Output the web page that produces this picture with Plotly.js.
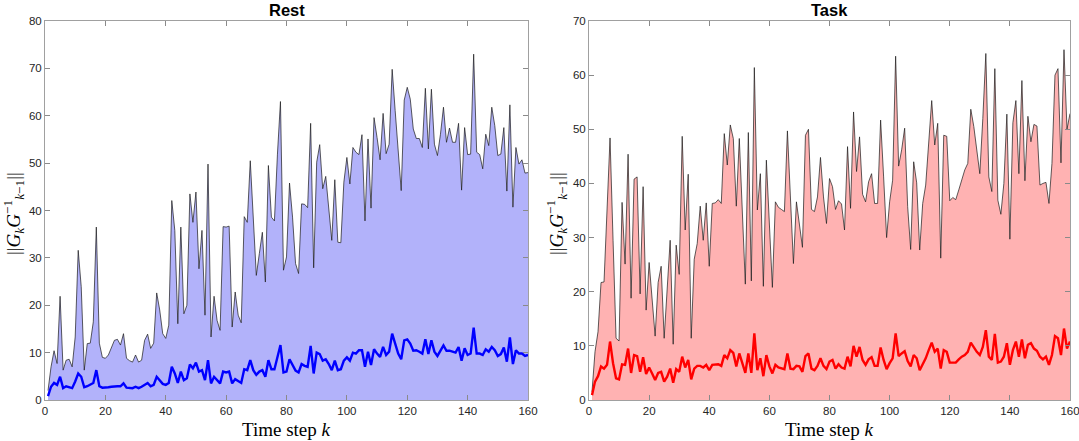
<!DOCTYPE html>
<html>
<head>
<meta charset="utf-8">
<script src="https://cdn.plot.ly/plotly-3.0.1.min.js"></script>
<style>html,body{margin:0;padding:0;background:#fff;}#chart{width:1079px;height:441px;}</style>
</head>
<body>
<div id="chart"></div>
<script>
const steps = Array.from({length: 160}, (_, i) => i + 1);

const restMax = [
  2, 7, 10.4, 7.7, 21.9, 6.3, 8.4, 8.6, 7, 13.3,
  31.6, 23.9, 6.3, 11.9, 12, 16.5, 36.5, 12, 9, 8.8,
  9.5, 11.2, 12.6, 12.8, 11.6, 14, 8.8, 8.3, 8, 9.5,
  8, 8.4, 12.6, 13.9, 10.9, 12, 22.6, 19, 14, 13,
  15.8, 42.1, 35.8, 16.1, 36.5, 18.2, 20, 43.5, 37.5, 43.9,
  27.7, 35.8, 17.9, 49.8, 13.3, 21.9, 16.8, 14.7, 36.6, 36.5,
  36.7, 15.4, 22.8, 17.9, 16.3, 38.7, 37.5, 50.5, 38.6, 26.3,
  30.9, 35.4, 24.9, 49.5, 38.6, 37.8, 51.9, 63, 27.4, 30.2,
  45.8, 38.6, 28.8, 26.7, 41.4, 41.3, 40.6, 58.4, 27.9, 50.2,
  53.9, 44.6, 47.2, 39.6, 33.7, 46.5, 33.3, 33.2, 46, 51.2,
  45.6, 53.3, 52.3, 51.8, 56, 37.8, 55.1, 40.5, 59.6, 55.4,
  50.7, 60.5, 52, 54, 69.8, 61.1, 52.6, 44.2, 63.3, 66,
  63.5, 57.2, 55.2, 55.2, 53.3, 65.8, 53, 65.6, 54, 51.6,
  56.1, 61.8, 54.4, 57.4, 54.4, 54.4, 58.4, 44.3, 57.5, 51.8,
  51.9, 73, 52.3, 51.8, 48.8, 56.1, 53.7, 61.8, 57.9, 51.6,
  51.9, 57.5, 44.1, 62.3, 40.7, 53.3, 49.8, 50.7, 47.9, 48
];

const restMean = [
  0.8, 2.8, 3.6, 3.2, 4.9, 2.5, 2.9, 2.7, 2.5, 3.9,
  5.6, 4.9, 2.7, 2.9, 3.2, 3.6, 6.3, 2.9, 2.6, 2.6,
  2.7, 2.8, 2.9, 2.9, 2.9, 3.5, 2.6, 2.5, 2.5, 2.8,
  2.5, 2.8, 3.2, 3.6, 2.9, 3.2, 4.9, 4.1, 3.4, 3.2,
  3.6, 7, 5.6, 3.6, 6, 4.2, 4.6, 7.5, 6.7, 7.9,
  6, 6.3, 4.2, 8.4, 3.5, 4.9, 4.1, 3.5, 6, 5.8,
  6, 3.5, 4.4, 3.9, 3.6, 6.5, 6.3, 8.4, 6.3, 5.3,
  6, 6.3, 4.9, 8.4, 6.5, 6.5, 9.1, 11.6, 5.8, 6,
  8.6, 7.4, 6.2, 5.8, 7.6, 7.2, 7, 11.4, 5.6, 10,
  9.7, 8.3, 8.6, 7.6, 6.3, 8.3, 6.3, 6.5, 8.3, 9,
  8.3, 10, 9.8, 10.5, 10.5, 7, 10.2, 7.4, 10.7, 9.8,
  9.1, 11.2, 9.5, 10.2, 14, 11.9, 9.8, 8.6, 12.6, 12.8,
  11.9, 10.4, 10.5, 10.2, 9.8, 12.8, 9.7, 12.6, 10.2, 9.3,
  10.5, 11.5, 10.4, 10.4, 10.2, 10, 11.2, 8.3, 10.9, 9.5,
  9.8, 15.3, 9.8, 9.8, 9.5, 10.7, 10.2, 11.2, 10.5, 9.3,
  9.7, 11.1, 8.1, 13.2, 7.6, 10.5, 9.8, 9.8, 9.3, 9.5
];

const taskMax = [
  1.5, 8.9, 12.6, 21.7, 21.8, 35, 48.4, 29.5, 11.4, 10.9,
  36.5, 25.1, 45.4, 18.8, 40.8, 41.2, 19.6, 39.4, 16.6, 25.4,
  19.1, 11.8, 21.7, 24.7, 11.4, 21.7, 29.5, 10.3, 28.6, 23.2,
  48.7, 31.4, 41.7, 11.4, 26, 28.9, 35.8, 29.5, 36.4, 24.7,
  36.3, 36.4, 37, 36.3, 49.2, 43.4, 50.8, 48.3, 35.8, 48.3,
  35, 21.4, 49.4, 22, 61.4, 35.1, 41.8, 21, 44.3, 32.6,
  20.8, 36.6, 35.6, 35.2, 34.8, 49.7, 36.6, 25.2, 36.6, 32.6,
  28.2, 48.9, 50, 35.2, 34.8, 37.5, 44.8, 37.5, 32.6, 40.9,
  39.4, 35.2, 36.8, 36.2, 31.4, 46.8, 35.4, 53.2, 42.2, 48.6,
  38, 36.6, 40.3, 41.8, 36.3, 36.3, 51.7, 41.2, 30, 36.6,
  40.6, 63.5, 43.2, 46.2, 50.2, 35.7, 27.8, 44, 40.1, 27.7,
  36.3, 39.7, 47.4, 55.3, 47.1, 51.1, 26.2, 48.9, 48.7, 36.8,
  37.4, 37, 38.8, 40.6, 42.5, 43.7, 53.7, 50.5, 46.2, 41.8,
  52, 64, 41.2, 38.5, 61.2, 36.9, 34.3, 40, 52.8, 29.7,
  51.2, 55.3, 41.8, 59, 40.5, 52.4, 47.7, 50.9, 50.6, 39.7,
  40, 40.2, 36.3, 43.7, 60, 61.2, 43.8, 64.7, 50, 52.9
];

const taskMean = [
  0.9, 3.4, 4.4, 6.2, 5.8, 6.5, 10.8, 6.8, 4, 3.8,
  6.6, 6.5, 9.5, 5, 8.3, 8.1, 5.2, 7.9, 4.8, 6,
  4.9, 3.7, 5, 5.2, 3.4, 4.3, 5.8, 3.2, 5.7, 5.2,
  8, 6, 7.4, 3.8, 5.8, 6.3, 6.3, 6, 6.5, 5.5,
  6.5, 6.5, 6.6, 6.3, 8.3, 7.7, 9.2, 8.7, 6.2, 8.6,
  6.8, 5, 8.6, 5, 12.3, 5.5, 7.7, 4.4, 8.3, 6.2,
  4.9, 6.5, 6, 5.8, 5.7, 8.6, 5.8, 5.7, 6.3, 6.2,
  5.2, 8.1, 8.6, 5.8, 5.5, 6.3, 7.7, 6.3, 5.7, 7.1,
  7.4, 5.8, 6.6, 6, 5.8, 8, 6.2, 10, 8, 9.8,
  7.4, 6.5, 7.5, 7.9, 6.3, 6.3, 9.7, 7.4, 5.7, 6.8,
  7.7, 12.3, 8.1, 8.6, 9, 7.2, 6.2, 8.3, 7.7, 5.5,
  6.5, 7.7, 9.2, 10.6, 8.9, 9.5, 5.8, 9.2, 8.9, 6.9,
  6.9, 6.9, 7.5, 8, 8.3, 8.9, 10.6, 9.7, 8.9, 8.3,
  9.8, 12.9, 8, 7.4, 12.2, 6.9, 7.1, 8, 10.5, 6.5,
  9.2, 10.8, 8, 11.2, 7.7, 10.2, 10.5, 9.5, 9.1, 8,
  7.5, 8, 6.5, 8.3, 11.8, 11.4, 8.3, 13.2, 9.5, 10.8
];

const panelTitles = ['Rest', 'Task'];
const xTitle = 'Time step <i>k</i>';
const yTitle = '||<i>G</i><sub><i>k</i></sub><i>G</i><sup>−1</sup><sub><i>k</i>−1</sub>||';
const xTicks = [0, 20, 40, 60, 80, 100, 120, 140, 160];
const restYTicks = [0, 10, 20, 30, 40, 50, 60, 70, 80];
const taskYTicks = [0, 10, 20, 30, 40, 50, 60, 70];

const traces = [
  {x: steps, y: restMax, type: 'scatter', mode: 'lines', fill: 'tozeroy',
   fillcolor: 'rgb(178,178,250)', line: {color: '#1a1a1a', width: 0.7},
   xaxis: 'x', yaxis: 'y', hoverinfo: 'skip'},
  {x: steps, y: restMean, type: 'scatter', mode: 'lines',
   line: {color: '#0000ff', width: 2.4}, xaxis: 'x', yaxis: 'y'},
  {x: steps, y: taskMax, type: 'scatter', mode: 'lines', fill: 'tozeroy',
   fillcolor: 'rgb(255,178,178)', line: {color: '#1a1a1a', width: 0.7},
   xaxis: 'x2', yaxis: 'y2', hoverinfo: 'skip'},
  {x: steps, y: taskMean, type: 'scatter', mode: 'lines',
   line: {color: '#ff0000', width: 2.4}, xaxis: 'x2', yaxis: 'y2'}
];

const axisCommon = {
  showline: true, linecolor: '#a0a0a0', linewidth: 1, mirror: 'ticks',
  ticks: 'inside', ticklen: 5, tickcolor: '#8a8a8a', tickwidth: 1,
  showgrid: false, zeroline: false, ticklabeloverflow: 'allow',
  tickfont: {family: 'Liberation Sans, Arial, sans-serif', size: 11.5, color: '#262626'}
};

const d1 = [45/1079, 528/1079];
const d2 = [589/1079, 1070/1079];
const yd = [41/441, 420/441];

const titleFont = {family: 'Liberation Sans, Arial, sans-serif', size: 16.5, color: '#000'};
const serifFont = {family: 'Liberation Serif, DejaVu Serif, serif', size: 19, color: '#000'};

const layout = {
  width: 1079, height: 441,
  margin: {l: 0, r: 0, t: 0, b: 0},
  paper_bgcolor: '#fff', plot_bgcolor: '#fff',
  showlegend: false,
  xaxis: Object.assign({}, axisCommon, {domain: d1, range: [0, 160], tickvals: xTicks, anchor: 'y'}),
  yaxis: Object.assign({}, axisCommon, {domain: yd, range: [0, 80], tickvals: restYTicks, anchor: 'x'}),
  xaxis2: Object.assign({}, axisCommon, {domain: d2, range: [0, 160], tickvals: xTicks, anchor: 'y2'}),
  yaxis2: Object.assign({}, axisCommon, {domain: yd, range: [0, 70], tickvals: taskYTicks, anchor: 'x2'}),
  annotations: [
    {text: '<b>' + panelTitles[0] + '</b>', xref: 'paper', yref: 'paper', x: (d1[0]+d1[1])/2, y: 1,
     showarrow: false, xanchor: 'center', yanchor: 'top', borderpad: 0, font: titleFont},
    {text: '<b>' + panelTitles[1] + '</b>', xref: 'paper', yref: 'paper', x: (d2[0]+d2[1])/2, y: 1,
     showarrow: false, xanchor: 'center', yanchor: 'top', borderpad: 0, font: titleFont},
    {text: xTitle, xref: 'paper', yref: 'paper', x: (d1[0]+d1[1])/2, y: 1 - 429/441,
     showarrow: false, xanchor: 'center', yanchor: 'middle', font: serifFont},
    {text: xTitle, xref: 'paper', yref: 'paper', x: (d2[0]+d2[1])/2, y: 1 - 429/441,
     showarrow: false, xanchor: 'center', yanchor: 'middle', font: serifFont},
    {text: yTitle, xref: 'paper', yref: 'paper', x: 13/1079, y: 1 - 214/441, textangle: -90,
     showarrow: false, xanchor: 'center', yanchor: 'middle', font: serifFont},
    {text: yTitle, xref: 'paper', yref: 'paper', x: 556/1079, y: 1 - 214/441, textangle: -90,
     showarrow: false, xanchor: 'center', yanchor: 'middle', font: serifFont}
  ]
};

Plotly.newPlot('chart', traces, layout, {displayModeBar: false, staticPlot: true});
</script>
</body>
</html>
